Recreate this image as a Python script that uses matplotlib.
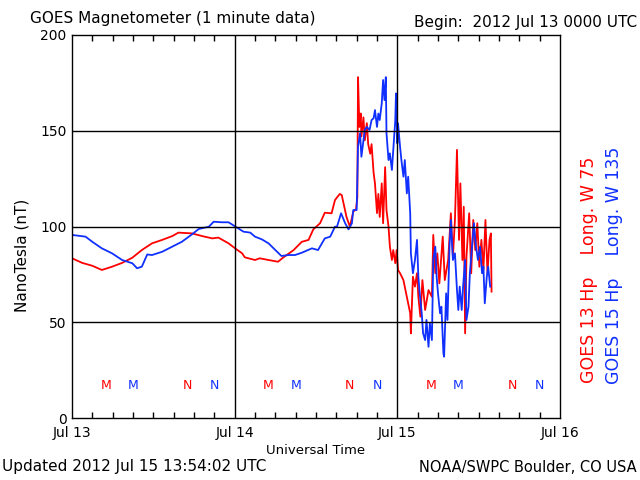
import matplotlib
matplotlib.use("Agg")
import matplotlib.pyplot as plt

# hours since 2012 Jul 13 00:00 UTC, values in nT
g13_hours = [0.0, 1.5, 3.0, 4.4, 5.9, 7.4, 8.9, 10.3, 11.8, 13.3, 14.8, 15.7, 17.7, 19.2,
             20.7, 21.6, 23.1, 24.1, 25.1, 25.5, 27.0, 27.7, 29.0, 30.4, 31.2, 32.7, 33.9,
             34.9, 35.6, 36.6, 37.3, 38.3, 38.8, 39.5, 39.8, 40.5, 41.0, 41.5, 41.9, 42.1,
             42.2, 42.4, 42.6, 42.7, 43.0, 43.2, 43.5, 43.7, 44.0, 44.2, 44.5, 44.7, 45.0,
             45.2, 45.4, 45.7, 45.9, 46.2, 46.4, 46.7, 46.9, 47.2, 47.4, 47.7, 47.9, 48.1,
             48.4, 48.9, 49.4, 49.9, 50.0, 50.3, 50.6, 50.9, 51.1, 51.4, 51.7, 52.1, 52.6,
             53.1, 53.3, 53.6, 53.9, 54.2, 54.7, 55.0, 55.5, 55.9, 56.2, 56.5, 56.8, 57.1,
             57.3, 57.6, 57.8, 58.0, 58.2, 58.6, 58.9, 59.2, 59.5, 59.8, 60.1, 60.4, 60.7,
             61.0, 61.3, 61.6, 61.8, 61.9]
g13_nt = [83.4, 81, 79.5, 77.3, 79, 81, 83.7, 87.7, 91.2, 93, 95, 96.8, 96.4, 95,
          93.8, 94.2, 91.2, 88.5, 86, 83.9, 82.5, 83.4, 82.5, 81.6, 83.9, 87.7, 92,
          93, 98.5, 101.7, 107.2, 106.9, 113.8, 117, 116.4, 105, 99.9, 107.7, 109, 115,
          178, 152, 159, 147, 157, 145, 154, 143, 138, 143, 128, 122.5, 107,
          117, 105, 122.5, 101.7, 131, 108.6, 99.9, 89.5, 82.5, 87.7, 80.8, 87.7, 77.3,
          75.6, 72, 63.3, 54.7, 44.2, 73.8, 68.6, 75.6, 63.3, 52.9, 72, 56.4, 66.8,
          63.3, 95.6, 75.6, 86, 70.3, 94.7, 72, 82.5, 106.9, 84.2, 103.4, 140, 93,
          122.5, 82.5, 110.3, 44.2, 84.2, 106.9, 75.6, 103.4, 87.7, 101.7, 79, 93, 77.3,
          103.4, 75.6, 93, 96.4, 66]

g15_hours = [0.0, 2.0, 3.0, 4.4, 5.9, 7.4, 8.9, 9.6, 10.3, 11.1, 11.8, 13.3, 14.8, 16.2,
             17.7, 18.7, 20.2, 20.9, 22.1, 23.1, 24.0, 25.3, 26.3, 27.0, 28.0, 29.0, 30.0,
             30.9, 31.9, 32.9, 33.9, 35.4, 36.3, 37.3, 38.1, 38.8, 39.1, 39.7, 40.3, 40.8,
             41.3, 41.5, 42.0, 42.2, 42.5, 42.7, 43.0, 43.2, 43.5, 43.9, 44.2, 44.5, 44.7,
             45.0, 45.2, 45.4, 45.7, 45.9, 46.1, 46.3, 46.4, 46.7, 46.9, 47.2, 47.4, 47.7,
             47.8, 48.0, 48.1, 48.4, 48.6, 48.9, 49.1, 49.4, 49.6, 49.9, 50.0, 50.3, 50.6,
             50.9, 51.1, 51.3, 51.6, 51.8, 52.1, 52.3, 52.6, 52.8, 53.1, 53.3, 53.6, 53.8,
             54.0, 54.3, 54.5, 54.8, 54.9, 55.2, 55.4, 55.7, 55.9, 56.2, 56.5, 56.8, 57.0,
             57.2, 57.5, 57.7, 58.0, 58.2, 58.5, 58.7, 59.1, 59.3, 59.6, 59.9, 60.2, 60.5,
             60.7, 60.9, 61.2, 61.4, 61.7]
g15_nt = [95.6, 94.7, 92, 88.6, 86, 82.5, 80.8, 78.2, 79, 85.4, 85.1, 86.8, 89.5, 92,
          95.9, 98.7, 99.9, 102.5, 102.2, 102.2, 100.2, 97.3, 96.8, 94.7, 93.3, 91.2, 87.7,
          84.6, 85.1, 85.1, 86.3, 88.6, 87.7, 93.8, 94.7, 99.9, 99.9, 106.9, 101.7, 98.5,
          101.7, 108.6, 108.6, 141.7, 148.7, 136.4, 145, 150.4, 152, 150.4, 155.6, 156.5, 160.8,
          152, 159, 155.6, 164.3, 176.5, 166, 178, 148.7, 134.7, 138.2, 129.5, 140, 155.6,
          169.5, 143.4, 153.9, 141.7, 134.7, 126, 134.7, 117.3, 126, 106.9, 86, 75.6, 82.5,
          93, 73.8, 65.1, 54.7, 44.2, 40.7, 51.2, 37.2, 49.5, 40.7, 82.5, 89.5, 73.8,
          65.1, 54.7, 58.1, 33.8, 32, 65.1, 51.2, 89.5, 103.4, 82.5, 86, 66.8, 56.4,
          68.6, 56.4, 68.6, 82.5, 51.2, 58.1, 75.6, 93, 101.7, 89.5, 82.5, 89.5, 75.6,
          79, 59.9, 73.8, 79, 68.6]

# local midnight (M) / noon (N) markers for each satellite, hours
g13_midnight = [5, 29, 53]
g13_noon = [17, 41, 65]
g15_midnight = [9, 33, 57]
g15_noon = [21, 45, 69]

day_labels = ["Jul 13", "Jul 14", "Jul 15", "Jul 16"]
red = "#ff0000"
blue = "#1030ff"

fig = plt.figure(figsize=(6.4, 4.8), dpi=100)
ax = fig.add_axes([72 / 640, 62 / 480, 488 / 640, 383 / 480])

ax.plot(g13_hours, g13_nt, color=red, lw=1.3)
ax.plot(g15_hours, g15_nt, color=blue, lw=1.3)

for h in g13_midnight:
    ax.text(h, 17, "M", color=red, ha="center", va="center", fontsize=9)
for h in g13_noon:
    ax.text(h, 17, "N", color=red, ha="center", va="center", fontsize=9)
for h in g15_midnight:
    ax.text(h, 17, "M", color=blue, ha="center", va="center", fontsize=9)
for h in g15_noon:
    ax.text(h, 17, "N", color=blue, ha="center", va="center", fontsize=9)

ax.set_xlim(0, 72)
ax.set_ylim(0, 200)
for v in [50, 100, 150]:
    ax.axhline(v, color="black", lw=1)
for d in [24, 48]:
    ax.axvline(d, color="black", lw=1)

ax.set_xticks([0, 24, 48, 72])
ax.set_xticklabels(day_labels, fontsize=10)
ax.set_xticks(range(0, 73, 3), minor=True)
ax.tick_params(axis="x", which="both", direction="in", top=True, length=4, width=1, pad=6)
ax.tick_params(axis="x", which="major", length=0)
ax.set_yticks([0, 50, 100, 150, 200])
ax.tick_params(axis="y", length=0, labelsize=10, pad=4)
for s in ax.spines.values():
    s.set_linewidth(1)

fig.text(316 / 640, 1 - 450 / 480, "Universal Time", ha="center", va="center", fontsize=9.5)
fig.text(22 / 640, 1 - 255 / 480, "NanoTesla (nT)", rotation=90, ha="center", va="center",
         fontsize=11)
fig.text(30 / 640, 1 - 18 / 480, "GOES Magnetometer (1 minute data)", ha="left",
         va="center", fontsize=11)
fig.text(637 / 640, 1 - 22 / 480, "Begin:  2012 Jul 13 0000 UTC", ha="right",
         va="center", fontsize=11)
fig.text(2 / 640, 1 - 467 / 480, "Updated 2012 Jul 15 13:54:02 UTC", ha="left",
         va="center", fontsize=11)
fig.text(637 / 640, 1 - 467 / 480, "NOAA/SWPC Boulder, CO USA", ha="right",
         va="center", fontsize=10.5)
fig.text(589 / 640, 1 - 270 / 480, "GOES 13 Hp    Long. W 75", rotation=90, color=red,
         ha="center", va="center", fontsize=12.5)
fig.text(614 / 640, 1 - 265 / 480, "GOES 15 Hp    Long. W 135", rotation=90, color=blue,
         ha="center", va="center", fontsize=12.5)

fig.savefig("out.png", dpi=100)
plt.close(fig)
